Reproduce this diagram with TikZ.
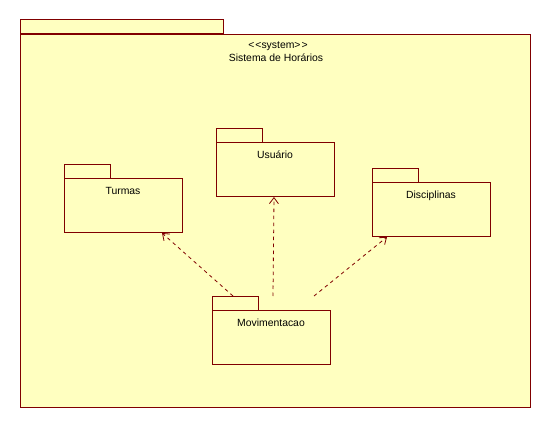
\documentclass[tikz,border=0pt]{standalone}
\usepackage{fontspec}
\setmainfont{Liberation Sans}
\usetikzlibrary{arrows.meta}
\definecolor{pkgfill}{HTML}{FFFFC0}
\definecolor{pkgline}{HTML}{800000}
\tikzset{
  pkgbody/.style={draw=pkgline, fill=pkgfill, line width=1pt, rectangle, inner sep=0pt, anchor=north west},
  pkgtab/.style={draw=pkgline, fill=pkgfill, line width=1pt},
  pkglabel/.style={font=\fontsize{10.4}{12}\selectfont, text=black, inner sep=0pt, anchor=base},
  dep/.style={draw=pkgline, line width=0.8pt, dash pattern=on 3.5pt off 3.5pt, -{Straight Barb[length=6pt,width=9pt,line width=0.8pt]}}
}
\begin{document}
\begin{tikzpicture}[x=1pt,y=-1pt]
\useasboundingbox (0,0) rectangle (552,428);
\fill[white] (0,0) rectangle (552,428);
% outer package
\draw[pkgtab] (20,20) rectangle (223,34);
\node[pkgbody, minimum width=510, minimum height=373] (sys) at (20,34) {};
\node[pkglabel] (sysstereo) at (278,49) {<\kern1pt<system>\kern1pt>};
\node[pkglabel] (syslabel) at (276,62) {Sistema de Horários};
% Turmas
\draw[pkgtab] (64,164) rectangle (110,178);
\node[pkgbody, minimum width=118, minimum height=54] (turmas) at (64,178) {};
\node[pkglabel] (turmaslabel) at (123,194) {Turmas};
% Usuario
\draw[pkgtab] (216,128) rectangle (262,142);
\node[pkgbody, minimum width=118, minimum height=54] (usuario) at (216,142) {};
\node[pkglabel] (usuariolabel) at (275,158) {Usuário};
% Disciplinas
\draw[pkgtab] (372,168) rectangle (418,182);
\node[pkgbody, minimum width=118, minimum height=54] (disc) at (372,182) {};
\node[pkglabel] (disclabel) at (431,198) {Disciplinas};
% Movimentacao
\draw[pkgtab] (212,296) rectangle (258,310);
\node[pkgbody, minimum width=118, minimum height=54] (mov) at (212,310) {};
\node[pkglabel] (movlabel) at (271,326) {Movimentacao};
% dependency ends
\coordinate (m1) at (233,296);
\coordinate (m2) at (273,296);
\coordinate (m3) at (314,296);
\coordinate (t1) at (162,233);
\coordinate (u1) at (274,197);
\coordinate (d1) at (387,237);
\draw[dep] (m1) -- (t1);
\draw[dep] (m2) -- (u1);
\draw[dep] (m3) -- (d1);
\end{tikzpicture}
\end{document}
